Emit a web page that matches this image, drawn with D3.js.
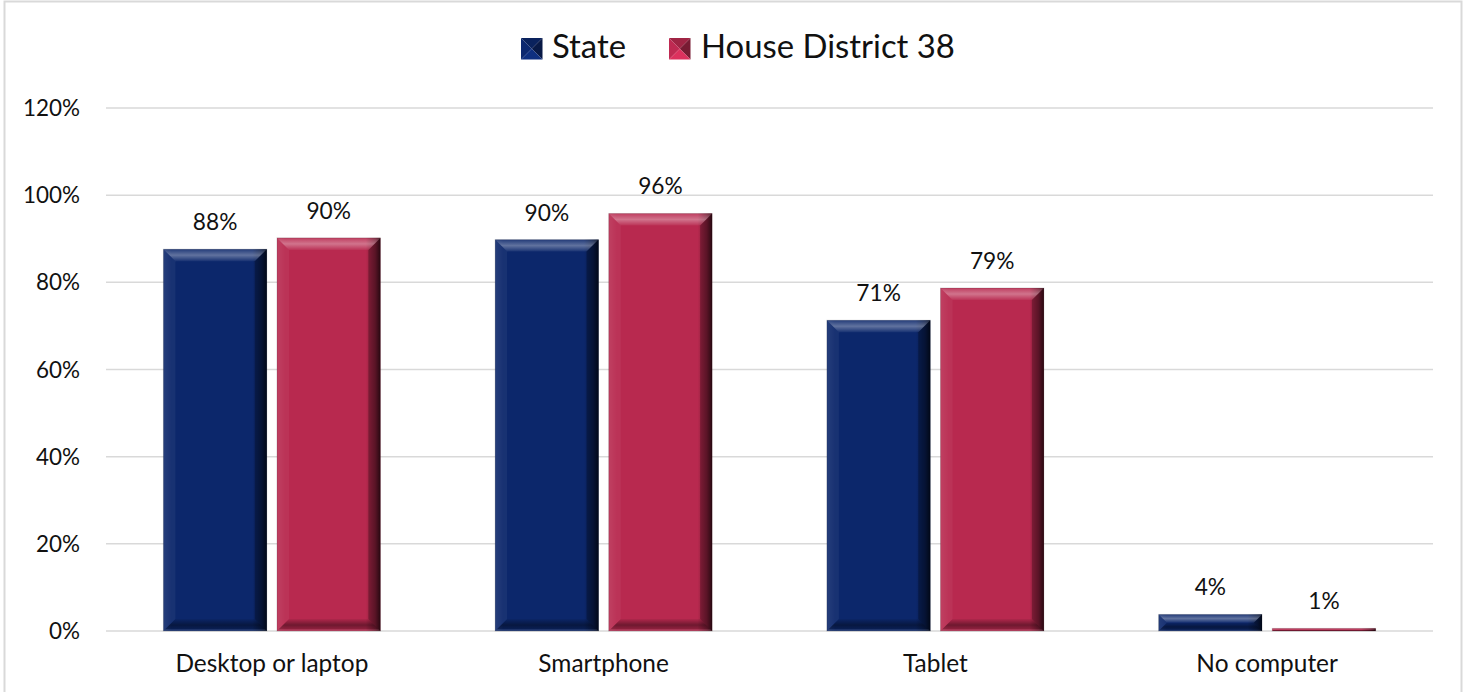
<!DOCTYPE html>
<html>
<head>
<meta charset="utf-8">
<script src="https://cdn.jsdelivr.net/npm/d3@7"></script>
<style>
  html, body { margin: 0; padding: 0; background: #fff; }
  svg { display: block; }
  text { font-family: Lato, "Open Sans", sans-serif; fill: #111; }
</style>
</head>
<body>
<script>
// ---- data ----
const categories = ["Desktop or laptop", "Smartphone", "Tablet", "No computer"];
const seriesNames = ["State", "House District 38"];
const stateValues = [0.876, 0.898, 0.713, 0.038];
const districtValues = [0.902, 0.958, 0.787, 0.006];
const yTicks = [0, 0.2, 0.4, 0.6, 0.8, 1.0, 1.2];
const seriesColors = ["#0c276b", "#b8294f"];

const W = 1469, H = 692;
const svg = d3.select("body").append("svg").attr("width", W).attr("height", H);

// chart border
svg.append("rect").attr("x", 4.5).attr("y", 1.5).attr("width", 1457).attr("height", H + 10)
  .attr("fill", "none").attr("stroke", "#d9d9d9").attr("stroke-width", 2);

const plot = { left: 106, right: 1433, top: 108, bottom: 631 };
const y = d3.scaleLinear().domain([0, 1.2]).range([plot.bottom, plot.top]);
const x0 = d3.scaleBand().domain(categories).range([plot.left, plot.right])
  .paddingInner(0.346).paddingOuter(0.173);
const x1 = d3.scaleBand().domain(seriesNames).range([0, x0.bandwidth()]).paddingInner(0.09);

// defs: gradients
const defs = svg.append("defs");
const hg = defs.append("linearGradient").attr("id", "hshade").attr("x1", 0).attr("x2", 1).attr("y1", 0).attr("y2", 0);
[[0, "#fff", 0.06], [0.08, "#fff", 0.0], [0.86, "#000", 0.0], [0.95, "#000", 0.35], [1, "#000", 0.7]]
  .forEach(s => hg.append("stop").attr("offset", s[0]).attr("stop-color", s[1]).attr("stop-opacity", s[2]));
const tg = defs.append("linearGradient").attr("id", "topbevel").attr("x1", 0).attr("x2", 0).attr("y1", 0).attr("y2", 1);
[[0, "#fff", 0.10], [0.5, "#fff", 0.35], [1, "#fff", 0.05]]
  .forEach(s => tg.append("stop").attr("offset", s[0]).attr("stop-color", s[1]).attr("stop-opacity", s[2]));
const bg = defs.append("linearGradient").attr("id", "botbevel").attr("x1", 0).attr("x2", 0).attr("y1", 0).attr("y2", 1);
[[0, "#000", 0.05], [0.5, "#000", 0.4], [0.8, "#000", 0.25], [1, "#fff", 0.15]]
  .forEach(s => bg.append("stop").attr("offset", s[0]).attr("stop-color", s[1]).attr("stop-opacity", s[2]));

// gridlines
svg.append("g").selectAll("line").data(yTicks).join("line")
  .attr("x1", plot.left).attr("x2", plot.right)
  .attr("y1", d => y(d)).attr("y2", d => y(d))
  .attr("stroke", "#d9d9d9").attr("stroke-width", 1.5);

// y axis labels
svg.append("g").selectAll("text").data(yTicks).join("text")
  .attr("class", "ytick")
  .attr("x", 80).attr("y", d => y(d)).attr("dy", "0.36em")
  .attr("text-anchor", "end")
  .text(d => d3.format(".0%")(d));

// bars
const rows = categories.map((c, i) => ({ cat: c, vals: [stateValues[i], districtValues[i]] }));
const bars = [];
rows.forEach(r => r.vals.forEach((v, j) => bars.push({ cat: r.cat, series: seriesNames[j], v, j })));

const barG = svg.append("g");
bars.forEach(d => {
  const bx = x0(d.cat) + x1(d.series), bw = x1.bandwidth();
  const top = y(d.v), base = y(0), h = base - top;
  const b = Math.min(12, h / 2);
  const g = barG.append("g");
  g.append("rect").attr("x", bx).attr("y", top).attr("width", bw).attr("height", h).attr("fill", seriesColors[d.j]);
  g.append("rect").attr("x", bx).attr("y", top).attr("width", bw).attr("height", h).attr("fill", "url(#hshade)");
  // side bevels
  g.append("polygon").attr("points", [[bx + bw, top], [bx + bw, base], [bx + bw - b, base - b], [bx + bw - b, top + b]].join(" "))
    .attr("fill", "#000").attr("fill-opacity", 0.25);
  g.append("polygon").attr("points", [[bx, top], [bx, base], [bx + b, base - b], [bx + b, top + b]].join(" "))
    .attr("fill", "#fff").attr("fill-opacity", 0.05);
  // top bevel
  g.append("polygon").attr("points", [[bx, top], [bx + bw, top], [bx + bw - b, top + b], [bx + b, top + b]].join(" "))
    .attr("fill", "url(#topbevel)");
  // bottom bevel
  g.append("polygon").attr("points", [[bx + b, base - b], [bx + bw - b, base - b], [bx + bw, base], [bx, base]].join(" "))
    .attr("fill", "url(#botbevel)");
  g.append("rect").attr("x", bx).attr("y", top).attr("width", bw).attr("height", h)
    .attr("fill", "none").attr("stroke", "#000").attr("stroke-opacity", 0.15).attr("stroke-width", 1);
});

// data labels
svg.append("g").selectAll("text").data(bars).join("text")
  .attr("class", "dlabel")
  .attr("x", d => x0(d.cat) + x1(d.series) + x1.bandwidth() / 2)
  .attr("y", d => y(d.v) - 19)
  .attr("text-anchor", "middle")
  .text(d => Math.round(d.v * 100) + "%");

// category labels
svg.append("g").selectAll("text").data(categories).join("text")
  .attr("class", "xcat")
  .attr("x", d => x0(d) + x0.bandwidth() / 2).attr("y", 672)
  .attr("text-anchor", "middle")
  .text(d => d);

// legend
const legend = svg.append("g");
const legendItems = [{ name: seriesNames[0], mx: 521, tx: 552 }, { name: seriesNames[1], mx: 669, tx: 701 }];
legendItems.forEach((it, j) => {
  const s = 21.5, mx = it.mx, my = 38;
  const c = d3.color(seriesColors[j]);
  const lg = legend.append("g");
  const cx = mx + s / 2, cy = my + s / 2;
  lg.append("polygon").attr("points", [[mx, my], [mx + s, my], [cx, cy]].join(" ")).attr("fill", c.darker(0.4));
  lg.append("polygon").attr("points", [[mx, my], [mx, my + s], [cx, cy]].join(" ")).attr("fill", c.brighter(0.1));
  lg.append("polygon").attr("points", [[mx + s, my], [mx + s, my + s], [cx, cy]].join(" ")).attr("fill", c.darker(1.2));
  lg.append("polygon").attr("points", [[mx, my + s], [mx + s, my + s], [cx, cy]].join(" ")).attr("fill", c.brighter(0.5));
  lg.append("text").attr("class", "legtext").attr("x", it.tx).attr("y", 58).text(it.name);
});

// fit font sizes to reference widths
function fit(sel, sample, target) {
  const nodes = svg.selectAll(sel);
  nodes.style("font-size", "30px");
  const node = nodes.filter(function () { return this.textContent === sample; }).node();
  const w = node.getComputedTextLength();
  nodes.style("font-size", (30 * target / w).toFixed(2) + "px");
}
fit(".legtext", "House District 38", 254);
fit(".ytick", "120%", 57);
fit(".dlabel", "88%", 44.6);
fit(".xcat", "Desktop or laptop", 193);
</script>
</body>
</html>
